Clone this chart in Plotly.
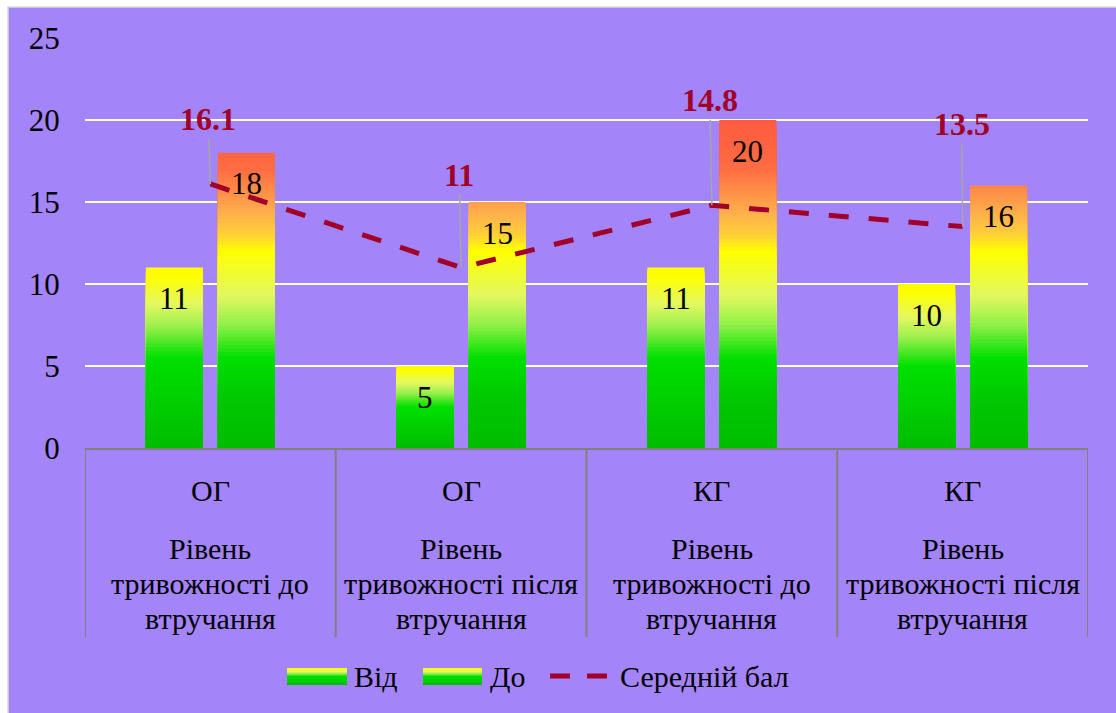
import plotly.graph_objects as go

# ---- data ----
groups = ["ОГ", "ОГ", "КГ", "КГ"]
stages = [
    ["Рівень", "тривожності до", "втручання"],
    ["Рівень", "тривожності після", "втручання"],
    ["Рівень", "тривожності до", "втручання"],
    ["Рівень", "тривожності після", "втручання"],
]
vid = [11, 5, 11, 10]
do = [18, 15, 20, 16]
mean_score = [16.1, 11, 14.8, 13.5]
y_ticks = [0, 5, 10, 15, 20, 25]

cats = [f"{g} {' '.join(s)}" for g, s in zip(groups, stages)]

# ---- style ----
W, H = 1116, 713
ML, MR, MT, MB = 85, 28, 38, 265
PW, PH = W - ML - MR, H - MT - MB
BG = "#A385F9"
FONT = "Liberation Serif, Times New Roman, serif"
TEXT_COLOR = "#000000"
MEAN_COLOR = "#A0002A"
AXIS_GRAY = "#808080"
N_SEG = 80

# gradient of the "Від" bars, relative to each bar's height
vid_stops = [(0.0, "#00BC00"), (0.5, "#00E000"), (0.68, "#A0F050"),
             (0.8, "#E4F860"), (0.95, "#FFFF00"), (1.0, "#FFFF00")]
# gradient of the "До" bars, tied to the value scale
do_stops = [(0, "#00BC00"), (3, "#00C800"), (5.5, "#00E000"), (7.5, "#90F048"),
            (9.3, "#E2F860"), (12, "#FFFF00"), (13, "#FFD038"), (14.3, "#FFB04C"),
            (15.5, "#FF9248"), (17, "#FF6C42"), (20, "#FF5A40")]


def hex2rgb(h):
    h = h.lstrip("#")
    return tuple(int(h[i:i + 2], 16) for i in (0, 2, 4))


def color_at(stops, pos):
    if pos <= stops[0][0]:
        return stops[0][1]
    for (p0, c0), (p1, c1) in zip(stops, stops[1:]):
        if p0 <= pos <= p1:
            f = 0 if p1 == p0 else (pos - p0) / (p1 - p0)
            a, b = hex2rgb(c0), hex2rgb(c1)
            r = [round(a[i] + (b[i] - a[i]) * f) for i in range(3)]
            return "rgb({},{},{})".format(*r)
    return stops[-1][1]


def px_x(px):
    return (px - ML) / PW


def px_y(py):
    return (MT + PH - py) / PH


def font(size, color=TEXT_COLOR):
    return dict(family=FONT, size=size, color=color)


fig = go.Figure()

# gradient bars: each series is layered from full height downwards, all from 0
for name, vals, stops, relative in (("Від", vid, vid_stops, True),
                                    ("До", do, do_stops, False)):
    for k in range(N_SEG):
        top = (N_SEG - k) / N_SEG
        mid = (N_SEG - k - 0.5) / N_SEG
        colors = [color_at(stops, mid if relative else v * mid) for v in vals]
        fig.add_trace(go.Bar(
            x=cats, y=[v * top for v in vals], name=name, offsetgroup=name,
            marker=dict(color=colors, line=dict(width=0)),
            showlegend=False, hoverinfo="skip",
        ))

# mean score line
fig.add_trace(go.Scatter(
    x=cats, y=mean_score, mode="lines", name="Середній бал",
    line=dict(color=MEAN_COLOR, width=5, dash="20px,20px"),
    showlegend=False, hoverinfo="skip",
))

annotations = []
# bar value labels
for vals, shift in ((vid, -36), (do, 36)):
    for c, v in zip(cats, vals):
        annotations.append(dict(
            x=c, y=v, xref="x", yref="y", text=str(v), showarrow=False,
            xshift=shift, yshift=-31, yanchor="middle", font=font(31),
        ))

# mean labels with leader lines
mean_offsets = [(-2, -65), (-2, -93), (-2, -105), (-1, -103)]
for c, m, (ax, ay) in zip(cats, mean_score, mean_offsets):
    annotations.append(dict(
        x=c, y=m, xref="x", yref="y", text=f"<b>{m:g}</b>",
        showarrow=True, arrowhead=0, arrowwidth=1.5, arrowcolor="#A6A6A6",
        ax=ax, ay=ay, standoff=0, font=font(32, MEAN_COLOR),
    ))

# category labels
line_y = [548, 583, 618]
for c, g, s in zip(cats, groups, stages):
    annotations.append(dict(
        x=c, y=px_y(490), xref="x", yref="paper", text=g, showarrow=False,
        yanchor="middle", font=font(30),
    ))
    for part, py in zip(s, line_y):
        annotations.append(dict(
            x=c, y=px_y(py), xref="x", yref="paper", text=part,
            showarrow=False, yanchor="middle", font=font(30),
        ))

shapes = []
# chart background panel with a light border
shapes.append(dict(type="rect", xref="paper", yref="paper",
                   x0=px_x(8), x1=px_x(W + 5), y0=px_y(H + 5), y1=px_y(7),
                   fillcolor=BG, line=dict(color="#D9D9D9", width=1.5),
                   layer="below"))
# category dividers
for i in range(len(cats) + 1):
    shapes.append(dict(type="line", xref="x", yref="paper",
                       x0=i - 0.5, x1=i - 0.5, y0=0, y1=px_y(637),
                       line=dict(color=AXIS_GRAY, width=2)))

# legend: gradient swatches
def swatch(x0, x1, y0, y1, n=17):
    out = []
    for j in range(n):
        t = (j + 0.5) / n
        out.append(dict(type="rect", xref="paper", yref="paper",
                        x0=px_x(x0), x1=px_x(x1),
                        y0=px_y(y1 - (y1 - y0) * j / n),
                        y1=px_y(y1 - (y1 - y0) * (j + 1) / n),
                        fillcolor=color_at(vid_stops, t), line=dict(width=0)))
    return out


shapes += swatch(287, 347, 668, 685)
shapes += swatch(423, 482, 668, 685)
shapes.append(dict(type="line", xref="paper", yref="paper",
                   x0=px_x(550), x1=px_x(607), y0=px_y(676), y1=px_y(676),
                   line=dict(color=MEAN_COLOR, width=5, dash="20px,17px")))
for txt, x in (("Від", 352), ("До", 488), ("Середній бал", 618)):
    annotations.append(dict(
        x=px_x(x), y=px_y(676), xref="paper", yref="paper", text=txt,
        showarrow=False, xanchor="left", yanchor="middle", font=font(30),
    ))

fig.update_layout(
    width=W, height=H,
    margin=dict(l=ML, r=MR, t=MT, b=MB),
    paper_bgcolor="white", plot_bgcolor="rgba(0,0,0,0)",
    barmode="group", bargap=0.426, bargroupgap=0.208,
    font=font(30),
    showlegend=False,
    annotations=annotations, shapes=shapes,
)
fig.update_xaxes(
    type="category", showticklabels=False, showgrid=False,
    showline=True, linecolor=AXIS_GRAY, linewidth=2, ticks="",
    range=[-0.5, len(cats) - 0.5],
)
fig.update_yaxes(
    range=[0, 25], tickvals=y_ticks, showgrid=True, gridcolor="white",
    gridwidth=2, zeroline=False, showline=False,
    ticks="outside", ticklen=18, tickcolor="rgba(0,0,0,0)",
    tickfont=font(31),
)

fig.write_html("out.html")
